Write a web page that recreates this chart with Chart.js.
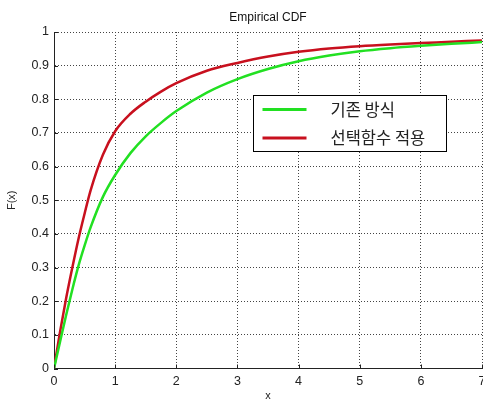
<!DOCTYPE html>
<html>
<head>
<meta charset="utf-8">
<script src="https://cdn.jsdelivr.net/npm/chart.js@4/dist/chart.umd.min.js"></script>
<style>
  html, body { margin: 0; padding: 0; background: #fff; }
</style>
</head>
<body>
<canvas id="cdf" width="483" height="403"></canvas>
<script>
// values
const xValues = [0, 0.1, 0.2, 0.3, 0.4, 0.5, 0.6, 0.8, 1.0, 1.25, 1.5, 1.75, 2, 2.5, 3, 3.5, 4, 4.5, 5, 5.5, 6, 6.5, 7];
const basicCdf = [0, 0.08, 0.16, 0.235, 0.305, 0.365, 0.42, 0.51, 0.575, 0.64, 0.69, 0.73, 0.765, 0.82, 0.86, 0.89, 0.913, 0.93, 0.943, 0.952, 0.959, 0.965, 0.97];
const selectCdf = [0, 0.11, 0.21, 0.3, 0.385, 0.46, 0.53, 0.635, 0.705, 0.757, 0.793, 0.823, 0.848, 0.885, 0.908, 0.927, 0.941, 0.951, 0.958, 0.963, 0.967, 0.971, 0.975];
const seriesNames = ["기존 방식", "선택함수 적용"];
const xTicks = [0, 1, 2, 3, 4, 5, 6, 7];
const yTicks = [0, 0.1, 0.2, 0.3, 0.4, 0.5, 0.6, 0.7, 0.8, 0.9, 1];
const yTickLabels = ["0", "0.1", "0.2", "0.3", "0.4", "0.5", "0.6", "0.7", "0.8", "0.9", "1"];
const chartTitle = "Empirical CDF";

const FONT = "'Liberation Sans', Arial, sans-serif";

const toPoints = (ys) => xValues.map((x, i) => ({ x: x, y: ys[i] }));

// title centred over the axes, like MATLAB does
const axesTitle = {
  id: "axesTitle",
  afterDraw(chart) {
    const { ctx, chartArea } = chart;
    ctx.save();
    ctx.fillStyle = "#111";
    ctx.font = "12px " + FONT;
    ctx.textAlign = "center";
    ctx.textBaseline = "middle";
    ctx.fillText(chartTitle, (chartArea.left + chartArea.right) / 2, 18);
    ctx.restore();
  },
};

// MATLAB style ticks pointing into the plot
const innerTicks = {
  id: "innerTicks",
  afterDraw(chart) {
    const { ctx, chartArea, scales } = chart;
    ctx.save();
    ctx.strokeStyle = "#222";
    ctx.lineWidth = 1;
    ctx.beginPath();
    scales.x.ticks.forEach((t) => {
      const px = Math.round(scales.x.getPixelForValue(t.value)) + 0.5;
      ctx.moveTo(px, chartArea.bottom);
      ctx.lineTo(px, chartArea.bottom - 4);
    });
    scales.y.ticks.forEach((t) => {
      const py = Math.round(scales.y.getPixelForValue(t.value)) + 0.5;
      ctx.moveTo(chartArea.left, py);
      ctx.lineTo(chartArea.left + 4, py);
    });
    ctx.stroke();
    ctx.restore();
  },
};

// boxed legend inside the axes
const boxLegend = {
  id: "boxLegend",
  afterDraw(chart) {
    const ctx = chart.ctx;
    const left = 253.5, top = 95.5, w = 193, h = 56;
    ctx.save();
    ctx.fillStyle = "#fff";
    ctx.fillRect(left, top, w, h);
    ctx.strokeStyle = "#000";
    ctx.lineWidth = 1;
    ctx.strokeRect(left, top, w, h);
    chart.data.datasets.forEach((ds, i) => {
      const y = top + 14 + i * 28.5;
      ctx.strokeStyle = ds.borderColor;
      ctx.lineWidth = 3;
      ctx.beginPath();
      ctx.moveTo(left + 9, y);
      ctx.lineTo(left + 53, y);
      ctx.stroke();
      ctx.fillStyle = "#222";
      ctx.font = "16.5px 'Noto Sans CJK KR', sans-serif";
      ctx.textBaseline = "middle";
      ctx.fillText(ds.label, left + 77, y);
    });
    ctx.restore();
  },
};

new Chart(document.getElementById("cdf"), {
  type: "line",
  data: {
    datasets: [
      {
        label: seriesNames[0],
        data: toPoints(basicCdf),
        borderColor: "#22e022",
        borderWidth: 2.5,
        pointRadius: 0,
        cubicInterpolationMode: "monotone",
      },
      {
        label: seriesNames[1],
        data: toPoints(selectCdf),
        borderColor: "#c8101e",
        borderWidth: 2.5,
        pointRadius: 0,
        cubicInterpolationMode: "monotone",
      },
    ],
  },
  options: {
    responsive: false,
    animation: false,
    layout: { padding: { left: 0, right: 1, top: 32, bottom: 0 } },
    plugins: {
      legend: { display: false },
      tooltip: { enabled: false },
      title: { display: false },
    },
    scales: {
      x: {
        type: "linear",
        min: 0,
        max: 7,
        afterBuildTicks: (scale) => {
          scale.ticks = xTicks.map((v) => ({ value: v }));
        },
        afterFit: (scale) => {
          scale.height = 34.5;
          scale.paddingLeft = 0;
          scale.paddingRight = 0;
        },
        ticks: {
          color: "#222",
          padding: 6,
          maxRotation: 0,
          font: { family: FONT, size: 12.5 },
        },
        grid: { color: "#444", lineWidth: 1, drawTicks: false },
        border: { color: "#222", width: 1, dash: [1, 2] },
        title: {
          display: true,
          text: "x",
          color: "#222",
          font: { family: FONT, size: 11 },
          padding: { top: 0, bottom: 0 },
        },
      },
      y: {
        type: "linear",
        min: 0,
        max: 1,
        afterBuildTicks: (scale) => {
          scale.ticks = yTicks.map((v) => ({ value: v }));
        },
        afterFit: (scale) => {
          scale.width = 54;
          scale.paddingTop = 0;
          scale.paddingBottom = 0;
        },
        ticks: {
          color: "#222",
          padding: 5,
          font: { family: FONT, size: 12.5 },
          callback: (value, index) => yTickLabels[index],
        },
        grid: { color: "#444", lineWidth: 1, drawTicks: false },
        border: { color: "#222", width: 1, dash: [1, 2] },
        title: {
          display: true,
          text: "F(x)",
          color: "#222",
          font: { family: FONT, size: 11 },
          padding: { top: 5, bottom: 0 },
        },
      },
    },
  },
  plugins: [axesTitle, innerTicks, boxLegend],
});
</script>
</body>
</html>
